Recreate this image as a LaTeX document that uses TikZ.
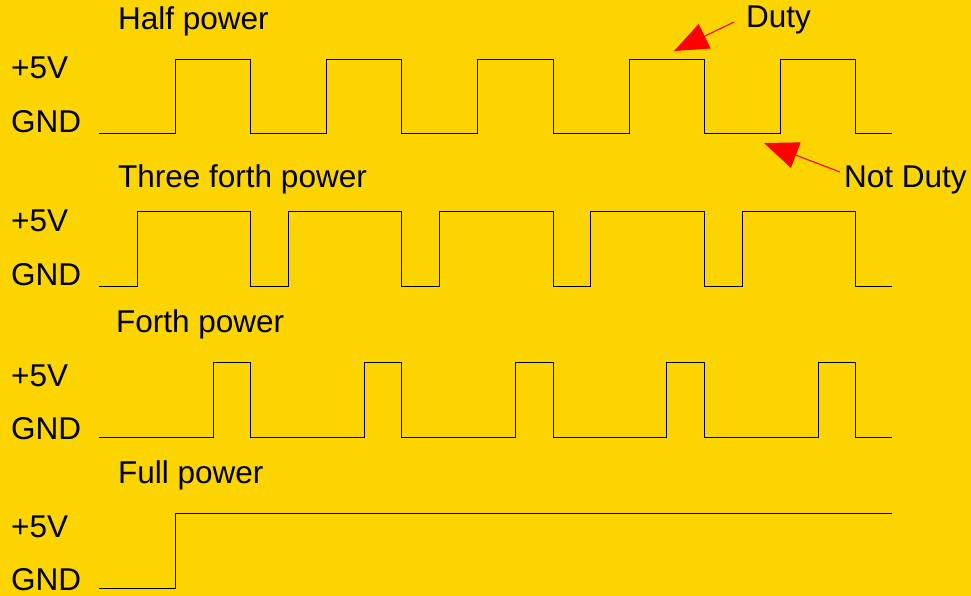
\documentclass[tikz,border=0pt]{standalone}
\usepackage{fontspec}
\setmainfont{Liberation Sans}
\usetikzlibrary{arrows.meta}
\definecolor{bgyellow}{RGB}{252,212,0}
\definecolor{arrred}{RGB}{255,0,0}
\tikzset{
  lbl/.style={anchor=base west, inner sep=0pt, font=\fontsize{31.5}{36}\selectfont},
  wave/.style={draw=black, line width=1pt, line join=miter},
  pointer/.style={draw=arrred, line width=1.1pt, -{Triangle[length=34pt,width=27pt,fill=arrred]}}
}
\begin{document}
\begin{tikzpicture}[x=1pt,y=-1pt]
\fill[bgyellow] (0,0) rectangle (971,596);
\useasboundingbox (0,0) rectangle (971,596);

% titles
\node[lbl] (t1) at (118,30) {Half power};
\node[lbl] (t2) at (118,187) {Three forth power};
\node[lbl] (t3) at (116,332) {Forth power};
\node[lbl] (t4) at (118,483) {Full power};

% level labels
\node[lbl] (v1) at (11,79) {+5V};
\node[lbl] (g1) at (11,133) {GND};
\node[lbl] (v2) at (11,231) {+5V};
\node[lbl] (g2) at (11,285) {GND};
\node[lbl] (v3) at (11,386) {+5V};
\node[lbl] (g3) at (11,439) {GND};
\node[lbl] (v4) at (11,537) {+5V};
\node[lbl] (g4) at (11,590) {GND};

% annotations
\node[lbl] (duty) at (746,28) {Duty};
\node[lbl] (notduty) at (844,188) {Not Duty};

% Half power
\draw[wave] (99,134) -- (175,134) -- (175,60) -- (250,60) -- (250,134)
  -- (326,134) -- (326,60) -- (401,60) -- (401,134)
  -- (477,134) -- (477,60) -- (553,60) -- (553,134)
  -- (629,134) -- (629,60) -- (704,60) -- (704,134)
  -- (780,134) -- (780,60) -- (855,60) -- (855,134) -- (892,134);

% Three forth power
\draw[wave] (99,286) -- (137,286) -- (137,211) -- (250,211) -- (250,286)
  -- (288,286) -- (288,211) -- (401,211) -- (401,286)
  -- (439,286) -- (439,211) -- (553,211) -- (553,286)
  -- (590,286) -- (590,211) -- (704,211) -- (704,286)
  -- (742,286) -- (742,211) -- (855,211) -- (855,286) -- (892,286);

% Forth power
\draw[wave] (99,437) -- (213,437) -- (213,362) -- (250,362) -- (250,437)
  -- (364,437) -- (364,362) -- (401,362) -- (401,437)
  -- (515,437) -- (515,362) -- (553,362) -- (553,437)
  -- (666,437) -- (666,362) -- (704,362) -- (704,437)
  -- (818,437) -- (818,362) -- (855,362) -- (855,437) -- (892,437);

% Full power
\draw[wave] (99,588) -- (175,588) -- (175,513) -- (892,513);

% pointers
\coordinate (dutytail) at (734,22);
\coordinate (dutytip) at (674,51);
\coordinate (ndtail) at (840,172);
\coordinate (ndtip) at (764,143);
\draw[pointer] (dutytail) -- (dutytip);
\draw[pointer] (ndtail) -- (ndtip);
\end{tikzpicture}
\end{document}
